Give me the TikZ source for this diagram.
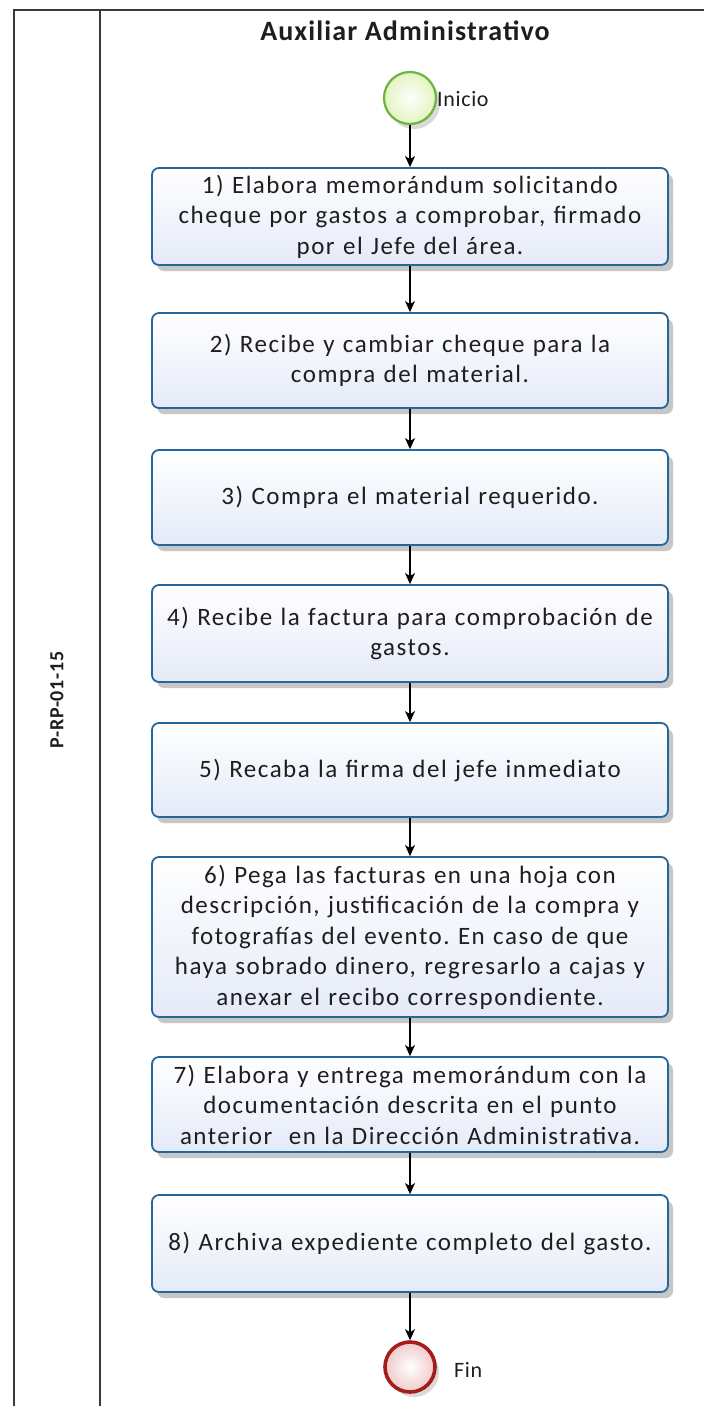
\documentclass[tikz,border=0pt]{standalone}
\usepackage{fontspec}
\setmainfont{Carlito}
\newfontfamily\boxfont[LetterSpace=6]{Carlito}
\newfontfamily\evfont[LetterSpace=3]{Carlito}
\newfontfamily\titlefont[LetterSpace=4]{Carlito}
\usetikzlibrary{shadows,arrows.meta}
\definecolor{boxline}{HTML}{25679A}
\definecolor{boxbot}{HTML}{E4EAF8}
\definecolor{framec}{HTML}{3A3A3A}
\definecolor{greenline}{HTML}{6DB33F}
\definecolor{greenfill}{HTML}{E3F4BE}
\definecolor{redline}{HTML}{A51C1C}
\definecolor{redfill}{HTML}{F1CACA}
\definecolor{txt}{HTML}{1E1E1E}
\frenchspacing
\tikzset{
  stepbox/.style={draw=boxline, line width=1.8pt, rounded corners=7pt,
    top color=white, bottom color=boxbot,
    drop shadow={shadow xshift=5pt, shadow yshift=-6pt, fill=black, opacity=0.22},
    minimum width=516pt, text width=510pt, align=center, inner sep=0pt,
    font=\boxfont\fontsize{25}{30.5}\selectfont, text=txt},
  startev/.style={circle, draw=greenline, line width=2.2pt, inner sep=0pt,
    minimum size=52pt, inner color=white, outer color=greenfill,
    drop shadow={shadow xshift=4pt, shadow yshift=-5pt, fill=black, opacity=0.15}},
  endev/.style={circle, draw=redline, line width=3.6pt, inner sep=0pt,
    minimum size=50pt, inner color=white, outer color=redfill,
    drop shadow={shadow xshift=4pt, shadow yshift=-5pt, fill=black, opacity=0.15}},
  evlabel/.style={anchor=west, inner sep=0pt, font=\evfont\fontsize{22}{24}\selectfont, text=txt},
  flow/.style={-{Stealth[length=11pt, width=10pt, inset=3pt]}, line width=1.3pt, black},
  frameline/.style={draw=framec, line width=2pt}
}
\begin{document}
\begin{tikzpicture}[x=1pt, y=-1pt]
\useasboundingbox (0,0) rectangle (704,1406);
% frame
\draw[frameline] (708,10) -- (14,10) -- (14,1410);
\draw[frameline] (100,10) -- (100,1410);
% titles
\node[font=\titlefont\bfseries\fontsize{28}{30}\selectfont, text=txt] (title) at (405,31) {Auxiliar Administrativo};
\node[font=\titlefont\bfseries\fontsize{20}{22}\selectfont, rotate=90, text=txt] (lane) at (57,700) {P-RP-01-15};
% events
\node[startev] (start) at (410,98) {};
\node[evlabel] (startl) at (437,99) {Inicio};
\node[endev] (end) at (410,1367) {};
\node[evlabel] (endl) at (454,1370) {Fin};
% tasks
\node[stepbox, minimum height=97pt] (b1) at (410,216.5) {1) Elabora memorándum solicitando\\cheque por gastos a comprobar, firmado\\por el Jefe del área.};
\node[stepbox, minimum height=95pt] (b2) at (410,360.5) {2) Recibe y cambiar cheque para la\\compra del material.};
\node[stepbox, minimum height=95pt] (b3) at (410,497.5) {3) Compra el material requerido.};
\node[stepbox, minimum height=97pt] (b4) at (410,633.5) {4) Recibe la factura para comprobación de\\gastos.};
\node[stepbox, minimum height=94pt] (b5) at (410,770) {5) Recaba la firma del jefe inmediato};
\node[stepbox, minimum height=160pt] (b6) at (410,937) {6) Pega las facturas en una hoja con\\descripción, justificación de la compra y\\fotografías del evento. En caso de que\\haya sobrado dinero, regresarlo a cajas y\\anexar el recibo correspondiente.};
\node[stepbox, minimum height=95pt] (b7) at (410,1104.5) {7) Elabora y entrega memorándum con la\\documentación descrita en el punto\\anterior\ \ en la Dirección Administrativa.};
\node[stepbox, minimum height=97pt] (b8) at (410,1243.5) {8) Archiva expediente completo del gasto.};
% flows
\draw[flow] (start) -- (b1);
\draw[flow] (b1) -- (b2);
\draw[flow] (b2) -- (b3);
\draw[flow] (b3) -- (b4);
\draw[flow] (b4) -- (b5);
\draw[flow] (b5) -- (b6);
\draw[flow] (b6) -- (b7);
\draw[flow] (b7) -- (b8);
\draw[flow] (b8) -- (end);
\end{tikzpicture}
\end{document}
